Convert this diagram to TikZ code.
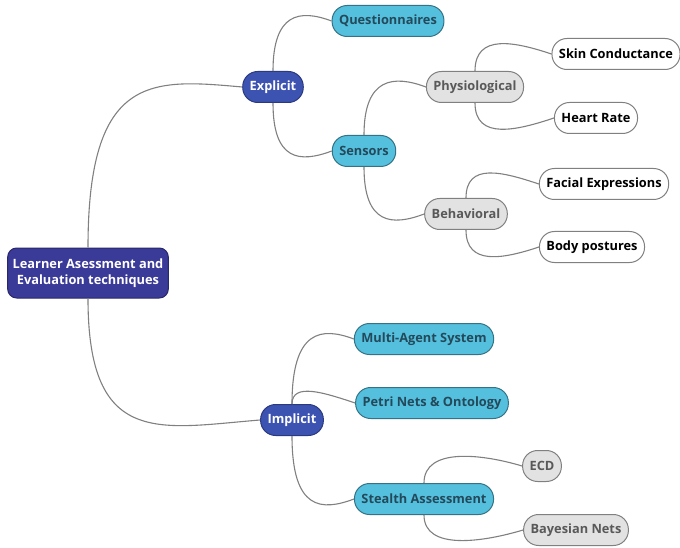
\documentclass[tikz,border=0pt]{standalone}
\usepackage{fontspec}
\setmainfont{Open Sans}
\usepackage{xcolor}
\usetikzlibrary{positioning}
\definecolor{RootBlue}{HTML}{3A3A98}
\definecolor{BranchBlue}{HTML}{3D53B2}
\definecolor{TopicCyan}{HTML}{55C0DE}
\definecolor{TopicText}{HTML}{23495A}
\definecolor{SubGray}{HTML}{E2E2E2}
\definecolor{LinkGray}{HTML}{808080}

\begin{document}
\begin{tikzpicture}[
    x=1pt, y=-1pt,
    pill/.style={rectangle, rounded corners=15pt, minimum height=31pt, inner xsep=7pt, font=\fontsize{12.8}{16}\selectfont\bfseries, line width=1pt},
    mainbox/.style={pill, rounded corners=9pt, fill=RootBlue, draw=RootBlue!70!black, text=white, align=center, inner xsep=5pt, minimum height=50pt},
    branchbox/.style={pill, fill=BranchBlue, draw=BranchBlue!70!black, text=white},
    topicbox/.style={pill, fill=TopicCyan, draw=TopicCyan!60!black, text=TopicText},
    subbox/.style={pill, fill=SubGray, draw=gray, text=black!65},
    leafbox/.style={pill, fill=white, draw=gray, text=black},
    link/.style={draw=LinkGray, line width=1.1pt}
]
\useasboundingbox (0,0) rectangle (680,548);

% nodes
\node[mainbox] (learner) at (88,273) {Learner Asessment and\\Evaluation techniques};
\node[branchbox] (explicit) at (273,87) {Explicit};
\node[branchbox] (implicit) at (292,420) {Implicit};

\node[topicbox] (quest) at (388,21) {Questionnaires};
\node[topicbox] (sensors) at (364,151) {Sensors};
\node[subbox] (physio) at (475,87) {Physiological};
\node[subbox] (behav) at (466,214) {Behavioral};
\node[leafbox] (skin) at (616,54) {Skin Conductance};
\node[leafbox] (heart) at (596,118) {Heart Rate};
\node[leafbox] (facial) at (604,184) {Facial Expressions};
\node[leafbox] (body) at (592,247) {Body postures};

\node[topicbox] (multi) at (424,339) {Multi-Agent System};
\node[topicbox] (petri) at (432,403) {Petri Nets \& Ontology};
\node[topicbox] (stealth) at (424,499) {Stealth Assessment};
\node[subbox] (ecd) at (542,466) {ECD};
\node[subbox] (bayes) at (576,530) {Bayesian Nets};

% links
\draw[link] (learner.north) .. controls +(0,-175) and +(-90,-8) .. (explicit.west);
\draw[link] (learner.south) .. controls +(0,150) and +(-100,8) .. (implicit.west);

\draw[link] (explicit.north) .. controls +(0,-58) and +(-32,-12) .. (quest.west);
\draw[link] (explicit.south) .. controls +(0,58) and +(-32,12) .. (sensors.west);
\draw[link] (sensors.north) .. controls +(0,-58) and +(-32,-12) .. (physio.west);
\draw[link] (sensors.south) .. controls +(0,58) and +(-32,12) .. (behav.west);
\draw[link] (physio.north) .. controls +(0,-38) and +(-36,-12) .. (skin.west);
\draw[link] (physio.south) .. controls +(0,38) and +(-36,12) .. (heart.west);
\draw[link] (behav.north) .. controls +(0,-36) and +(-36,-12) .. (facial.west);
\draw[link] (behav.south) .. controls +(0,36) and +(-36,12) .. (body.west);

\draw[link] (implicit.north) .. controls +(0,-75) and +(-32,-12) .. (multi.west);
\draw[link] (implicit.north) .. controls +(0,-22) and +(-30,-10) .. (petri.west);
\draw[link] (implicit.south) .. controls +(0,75) and +(-32,12) .. (stealth.west);
\draw[link] (stealth.north) .. controls +(0,-36) and +(-40,-12) .. (ecd.west);
\draw[link] (stealth.south) .. controls +(0,36) and +(-40,12) .. (bayes.west);
\end{tikzpicture}
\end{document}
